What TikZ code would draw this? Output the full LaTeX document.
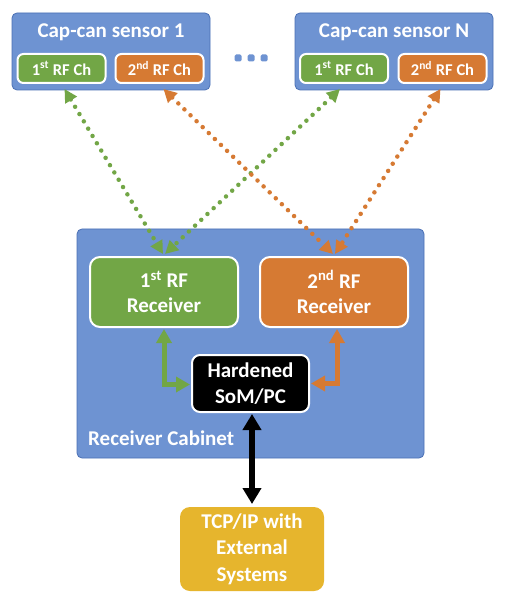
\documentclass[tikz,border=0pt]{standalone}
\usepackage{fontspec}
\setmainfont{Carlito}
\usetikzlibrary{arrows.meta,calc}
\definecolor{cblue}{HTML}{6E93D2}
\definecolor{cblueD}{HTML}{4A70B5}
\definecolor{cgreen}{HTML}{72A646}
\definecolor{corange}{HTML}{D67A33}
\definecolor{cgold}{HTML}{E6B52D}
\tikzset{
  bigbox/.style={draw=cblueD, line width=0.8pt, fill=cblue, rounded corners=5pt, inner sep=0pt},
  chbox/.style={draw=white, line width=2pt, rounded corners=6pt, inner sep=0pt,
     minimum width=88pt, minimum height=29pt, text=white,
     font=\bfseries\fontsize{16.5}{18}\selectfont},
  rxbox/.style={draw=white, line width=2pt, rounded corners=10pt, inner sep=0pt,
     minimum width=148pt, minimum height=70pt, text=white, align=center,
     font=\bfseries\fontsize{21}{25}\selectfont},
  lbl/.style={text=white, inner sep=0pt, font=\bfseries\fontsize{21}{25}\selectfont},
  radio/.style={line width=4.5pt, line cap=round, dash pattern=on 0pt off 8.5pt,
     {Triangle[length=13pt,width=13pt]}-{Triangle[length=13pt,width=13pt]}},
  wire/.style={line width=5pt,
     {Triangle[length=14pt,width=15pt]}-{Triangle[length=14pt,width=15pt]}},
}
\begin{document}
\begin{tikzpicture}[x=1pt,y=-1pt]
\useasboundingbox[fill=white] (0,0) rectangle (504,601);
% sensors
\node[bigbox, minimum width=198pt, minimum height=77pt] (s1) at (111,51.5) {};
\node[bigbox, minimum width=198pt, minimum height=77pt] (sN) at (394,51.5) {};
\node[lbl] (s1t) at (111,32) {Cap-can sensor 1};
\node[lbl] (sNt) at (394,32) {Cap-can sensor N};
\node[chbox, fill=cgreen] (s1a) at (61.5,68.5) {1\textsuperscript{st} RF Ch};
\node[chbox, fill=corange] (s1b) at (159.5,68.5) {2\textsuperscript{nd} RF Ch};
\node[chbox, fill=cgreen] (sNa) at (344,68.5) {1\textsuperscript{st} RF Ch};
\node[chbox, fill=corange] (sNb) at (442.5,68.5) {2\textsuperscript{nd} RF Ch};
% ellipsis dots
\foreach \i/\x in {1/238,2/251,3/264}
  \node[fill=cblue, rounded corners=1.5pt, minimum size=7pt, inner sep=0pt] (dot\i) at (\x,58) {};
% cabinet
\node[bigbox, minimum width=347pt, minimum height=229pt] (cab) at (250.5,343.5) {};
\node[lbl, anchor=west] (cabt) at (88,438) {Receiver Cabinet};
\node[rxbox, fill=cgreen] (r1) at (164,292) {1\textsuperscript{st} RF\\Receiver};
\node[rxbox, fill=corange] (r2) at (334,292) {2\textsuperscript{nd} RF\\Receiver};
\node[rxbox, fill=black, rounded corners=8pt, minimum width=117pt, minimum height=57pt,
      font=\bfseries\fontsize{21}{26}\selectfont] (hw) at (250.5,383.5) {Hardened\\SoM/PC};
\node[rxbox, fill=cgold, draw=none, rounded corners=10pt, minimum width=144pt, minimum height=84pt,
      font=\bfseries\fontsize{21}{26.5}\selectfont] (tcp) at (252,549) {TCP/IP with\\External\\Systems};
% radio links
\draw[radio, cgreen]  ($(s1a.south)+(3,5)$) -- ($(r1.north)+(-1,-2)$);
\draw[radio, cgreen]  ($(sNa.south)+(-4,5)$) -- ($(r1.north)+(1,-2)$);
\draw[radio, corange] ($(s1b.south)+(4,5)$) -- ($(r2.north)+(-1,-2)$);
\draw[radio, corange] ($(sNb.south)+(-2,5)$) -- ($(r2.north)+(1,-2)$);
% internal wires
\draw[wire, cgreen]  ($(r1.south)+(0,1)$) |- ($(hw.west)+(-1,1)$);
\draw[wire, corange] ($(r2.south)+(3,1)$) |- ($(hw.east)+(1,0)$);
\draw[line width=6pt, black, {Triangle[length=16pt,width=18pt]}-{Triangle[length=16pt,width=18pt]}]
  ($(hw.south)+(1.5,1)$) -- ($(tcp.north)+(0,-2)$);
\end{tikzpicture}
\end{document}
